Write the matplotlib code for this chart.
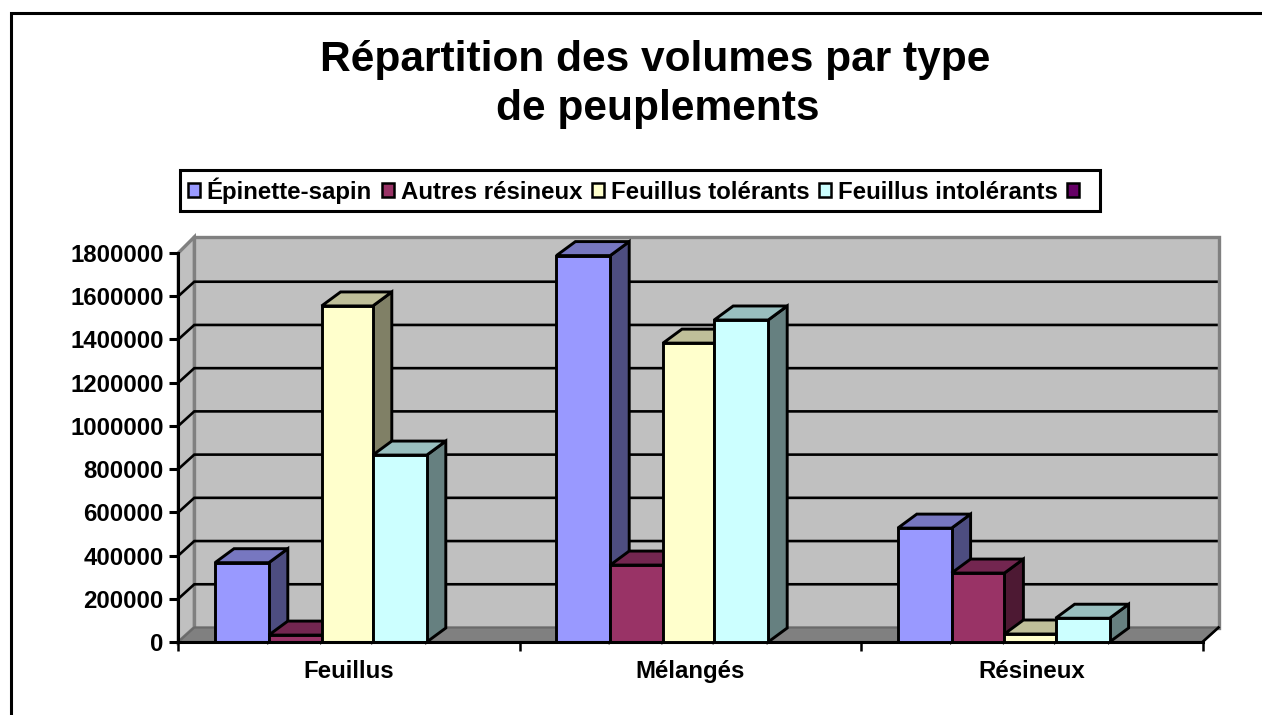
import numpy as np
import matplotlib
matplotlib.use("Agg")
import matplotlib.pyplot as plt
from matplotlib.patches import Patch, Polygon, Rectangle

plt.rcParams['font.family'] = ['Liberation Sans', 'DejaVu Sans']
plt.rcParams['font.weight'] = 'bold'

categories = ["Feuillus", "Mélangés", "Résineux"]
series_names = ["Épinette-sapin", "Autres résineux", "Feuillus tolérants", "Feuillus intolérants", " "]
epinette = [367000, 1788000, 527000]
autres = [32000, 356000, 319000]
tolerants = [1555000, 1383000, 37000]
intolerants = [865000, 1490000, 110000]
vide = [0, 0, 0]
series = [epinette, autres, tolerants, intolerants, vide]
y_ticks = list(range(0, 1800001, 200000))

front = ["#9999FF", "#993366", "#FFFFCC", "#CCFFFF", "#660066"]
top = ["#7777C0", "#732650", "#BFBF99", "#99BFBF", "#4D004D"]
side = ["#4D4D80", "#4D1933", "#808066", "#668080", "#330033"]

W, H = 1262, 715
L, R, T, B = 178.3, 1202.5, 253, 642
FS = 17.3

fig = plt.figure(figsize=(W / 100, H / 100), dpi=100, facecolor="white")
ax = fig.add_axes([L / W, 1 - B / H, (R - L) / W, (B - T) / H])
ax.set_xlim(0, 3)
ax.set_ylim(0, 1800000)
ax.patch.set_visible(False)
ax.spines[['top', 'right']].set_visible(False)
ax.spines[['left', 'bottom']].set_linewidth(2.2)
ax.spines[['left', 'bottom']].set_zorder(8)

# pixel -> data units for the fake depth
px_x = 3 / (R - L)
px_y = 1800000 / (B - T)
wall_dx, wall_dy = 16 * px_x, 14.5 * px_y
wall_top = 1800000 + 16 * px_y
bar_dx, bar_dy = 19 * px_x, 14 * px_y

# outer chart frame, runs off the canvas on the right and bottom
fig.add_artist(Rectangle((10.5 / W, -0.1), 1.2, 1.1 - 12.5 / H, transform=fig.transFigure,
                         fill=False, ec="black", lw=2.2))

# walls and floor
ax.add_patch(Polygon([(wall_dx, wall_dy), (3 + wall_dx, wall_dy), (3 + wall_dx, wall_top),
                      (wall_dx, wall_top)], fc="#C0C0C0", ec="#808080", lw=2.4, clip_on=False, zorder=1))
ax.add_patch(Polygon([(0, 0), (wall_dx, wall_dy), (wall_dx, wall_top), (0, 1800000)],
                     fc="#C0C0C0", ec="#808080", lw=2.4, clip_on=False, zorder=1))
ax.add_patch(Polygon([(0, 0), (3, 0), (3 + wall_dx, wall_dy), (wall_dx, wall_dy)],
                     fc="#808080", ec="#6A6A6A", lw=1.6, clip_on=False, zorder=1))
ax.plot([3, 3 + wall_dx], [0, wall_dy], color="black", lw=1.9, clip_on=False, zorder=2)

for v in y_ticks[1:-1]:
    ax.plot([0, wall_dx, 3 + wall_dx - 2 * px_x], [v, v + wall_dy, v + wall_dy], color="black", lw=1.9,
            clip_on=False, zorder=2, solid_joinstyle="miter")

# bars, left to right so each one covers the side of the previous
n = len(series)
bar_widths = np.array([53.8, 52.8, 51.2, 54.0, 53.2]) * px_x
gap = (1 - bar_widths.sum()) / 2 - 1.5 * px_x
z = 3
for c in range(len(categories)):
    x0 = c + gap
    for s in range(n):
        v = series[s][c]
        x1 = x0 + bar_widths[s]
        if v > 0:
            kw = dict(ec="black", lw=2.1, joinstyle="miter", clip_on=False, zorder=z)
            ax.add_patch(Polygon([(x1, 0), (x1 + bar_dx, bar_dy), (x1 + bar_dx, v + bar_dy), (x1, v)], fc=side[s], **kw))
            ax.add_patch(Polygon([(x0, v), (x1, v), (x1 + bar_dx, v + bar_dy), (x0 + bar_dx, v + bar_dy)], fc=top[s], **kw))
            ax.bar(x0, v, bar_widths[s], align="edge", color=front[s], edgecolor="black", linewidth=2.1,
                   clip_on=False, zorder=z)
            z += 1
        x0 = x1

ax.set_yticks(y_ticks)
ax.set_yticklabels([str(v) for v in y_ticks], fontsize=FS, fontweight="bold")
ax.set_xticks([0, 1, 2, 3])
ax.set_xticklabels([])
ax.set_xticks([0.5, 1.5, 2.5], categories, minor=True, fontsize=FS, fontweight="bold")
ax.tick_params(axis='y', length=6.5, width=2.2, pad=4)
ax.tick_params(axis='x', which='major', length=6.5, width=1.8)
ax.tick_params(axis='x', which='minor', length=0, pad=13)

fig.text(655.5 / W, 1 - 60 / H, "Répartition des volumes par type", ha="center", va="center",
         fontsize=30.6, fontweight="bold")
fig.text(657.5 / W, 1 - 109 / H, "de peuplements", ha="center", va="center",
         fontsize=30.6, fontweight="bold")

handles = [Patch(facecolor=front[i], edgecolor="black", linewidth=1.8) for i in range(n)]
leg = fig.legend(handles, series_names, ncol=5, loc="center left",
                 bbox_to_anchor=(180.5 / W, 1 - 190.5 / H), borderaxespad=0,
                 frameon=True, fancybox=False, edgecolor="black", framealpha=1,
                 prop={'size': FS, 'weight': 'bold'}, handlelength=0.5, handleheight=0.5,
                 handletextpad=0.29, columnspacing=0.40, borderpad=0.30)
leg.get_frame().set_linewidth(2.2)

fig.savefig("out.png", dpi=100, facecolor="white")
